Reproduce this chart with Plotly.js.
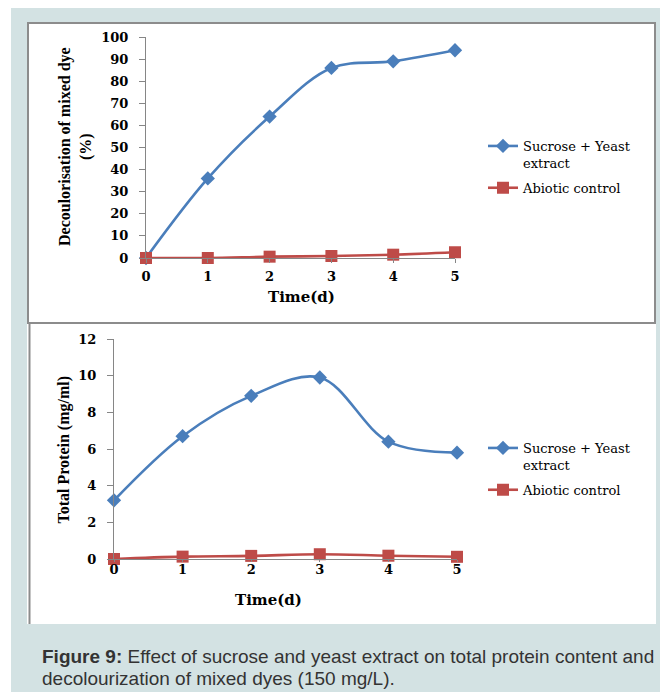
<!DOCTYPE html>
<html>
<head>
<meta charset="utf-8">
<script src="https://cdn.plot.ly/plotly-3.0.1.min.js"></script>
<style>html,body{margin:0;padding:0;background:#fff;}#chart{width:660px;height:692px;}</style>
</head>
<body>
<div id="chart"></div>
<script>
// ---- data ----
const days = [0, 1, 2, 3, 4, 5];
const dyeSucroseYeast = [0, 36, 64, 86, 89, 94];
const dyeAbiotic = [0, 0, 0.6, 0.9, 1.5, 2.6];
const proteinSucroseYeast = [3.2, 6.7, 8.9, 9.9, 6.4, 5.8];
const proteinAbiotic = [0, 0.13, 0.17, 0.26, 0.18, 0.12];
const seriesNames = ["Sucrose + Yeast<br>extract", "Abiotic control"];
const dyeTicks = [0, 10, 20, 30, 40, 50, 60, 70, 80, 90, 100];
const proteinTicks = [0, 2, 4, 6, 8, 10, 12];

// ---- layout helpers (pixel -> paper) ----
const W = 660, H = 692;
const px = x => x / W;
const py = y => 1 - y / H;

const BLUE = "#4a7ebb", RED = "#be4b48", AXIS = "#868686";
const tickFont = {family: "DejaVu Serif", size: 13, color: "#000", weight: "bold"};
const legendFont = {family: "DejaVu Serif", size: 13, color: "#000"};

function lineTrace(x, y, name, color, symbol, size, xa, ya, legend, group) {
  return {
    x: x, y: y, name: name, type: "scatter", mode: "lines+markers",
    xaxis: xa, yaxis: ya, legend: legend, legendgroup: group, cliponaxis: false,
    line: {color: color, width: 2.6, shape: "spline", smoothing: 1},
    marker: {color: color, symbol: symbol, size: size}
  };
}

const data = [
  lineTrace(days, dyeSucroseYeast, seriesNames[0], BLUE, "diamond", 11, "x", "y", "legend", "a"),
  lineTrace(days, dyeAbiotic, seriesNames[1], RED, "square", 12, "x", "y", "legend", "b"),
  lineTrace(days, proteinSucroseYeast, seriesNames[0], BLUE, "diamond", 11, "x2", "y2", "legend2", "c"),
  lineTrace(days, proteinAbiotic, seriesNames[1], RED, "square", 12, "x2", "y2", "legend2", "d")
];

function xAxis(domain, anchor, ticklen, standoff) {
  return {
    domain: domain, anchor: anchor, range: [0, 5], tickvals: days, ticktext: days.map(String),
    showline: true, linecolor: AXIS, linewidth: 1, ticks: "outside", ticklen: ticklen, tickcolor: AXIS,
    showgrid: false, zeroline: false, tickfont: tickFont, ticklabelstandoff: standoff, fixedrange: true
  };
}
function yAxis(domain, anchor, range, ticks, standoff) {
  return {
    domain: domain, anchor: anchor, range: range, tickvals: ticks, ticktext: ticks.map(String),
    showline: true, linecolor: AXIS, linewidth: 1, ticks: "outside", ticklen: 6, tickcolor: AXIS,
    showgrid: false, zeroline: false, tickfont: tickFont, ticklabelstandoff: standoff, fixedrange: true
  };
}

function legendBox(yTop) {
  return {x: px(483), y: py(yTop), xanchor: "left", yanchor: "top", font: legendFont,
          bgcolor: "rgba(0,0,0,0)", valign: "top", traceorder: "grouped", itemwidth: 30, tracegroupgap: 5};
}

const layout = {
  width: W, height: H,
  margin: {l: 0, r: 0, t: 0, b: 0},
  paper_bgcolor: "#ffffff", plot_bgcolor: "rgba(0,0,0,0)",
  showlegend: true,
  xaxis: xAxis([px(146), px(455)], "y", 4, 2),
  yaxis: yAxis([py(258), py(37)], "x", [0, 100], dyeTicks, 8),
  xaxis2: xAxis([px(114), px(457)], "y2", 2, -4),
  yaxis2: yAxis([py(559), py(339)], "x2", [0, 12], proteinTicks, 8),
  legend: legendBox(131),
  legend2: legendBox(433),
  shapes: [
    {type: "rect", xref: "paper", yref: "paper", x0: px(11), x1: px(660), y0: py(692), y1: py(8),
     fillcolor: "#d3e2e3", line: {width: 0}, layer: "below"},
    {type: "rect", xref: "paper", yref: "paper", x0: px(27), x1: px(656), y0: py(624), y1: py(324),
     fillcolor: "#ffffff", line: {width: 0}, layer: "below"},
    {type: "line", xref: "paper", yref: "paper", x0: px(29.5), x1: px(29.5), y0: py(624), y1: py(323),
     line: {color: "#8c8c8c", width: 2}, layer: "below"},
    {type: "rect", xref: "paper", yref: "paper", x0: px(28), x1: px(655), y0: py(323), y1: py(23),
     fillcolor: "#ffffff", line: {color: "#8c8c8c", width: 2}, layer: "below"}
  ],
  annotations: [
    {text: "<b>Decoulorisation of mixed dye<br>(%)</b>", textangle: -90, xref: "paper", yref: "paper",
     x: px(75), y: py(147), xanchor: "center", yanchor: "middle", showarrow: false,
     font: {family: "Liberation Serif", size: 16, color: "#000"}},
    {text: "<b>Time(d)</b>", xref: "paper", yref: "paper", x: px(301), y: py(297),
     xanchor: "center", yanchor: "middle", showarrow: false,
     font: {family: "DejaVu Serif", size: 15, color: "#000"}},
    {text: "<b>Total Protein (mg/ml)</b>", textangle: -90, xref: "paper", yref: "paper",
     x: px(63.5), y: py(450), xanchor: "center", yanchor: "middle", showarrow: false,
     font: {family: "Liberation Serif", size: 16, color: "#000"}},
    {text: "<b>Time(d)</b>", xref: "paper", yref: "paper", x: px(268), y: py(600),
     xanchor: "center", yanchor: "middle", showarrow: false,
     font: {family: "DejaVu Serif", size: 15, color: "#000"}},
    {text: "<b>Figure 9:</b> Effect of sucrose and yeast extract on total protein content and",
     xref: "paper", yref: "paper", x: px(40), y: py(656), xanchor: "left", yanchor: "middle", showarrow: false,
     font: {family: "Liberation Sans", size: 19, color: "#333"}},
    {text: "decolourization of mixed dyes (150 mg/L).",
     xref: "paper", yref: "paper", x: px(40), y: py(678), xanchor: "left", yanchor: "middle", showarrow: false,
     font: {family: "Liberation Sans", size: 19, color: "#333"}}
  ]
};

Plotly.newPlot("chart", data, layout, {staticPlot: true, displayModeBar: false});
</script>
</body>
</html>
